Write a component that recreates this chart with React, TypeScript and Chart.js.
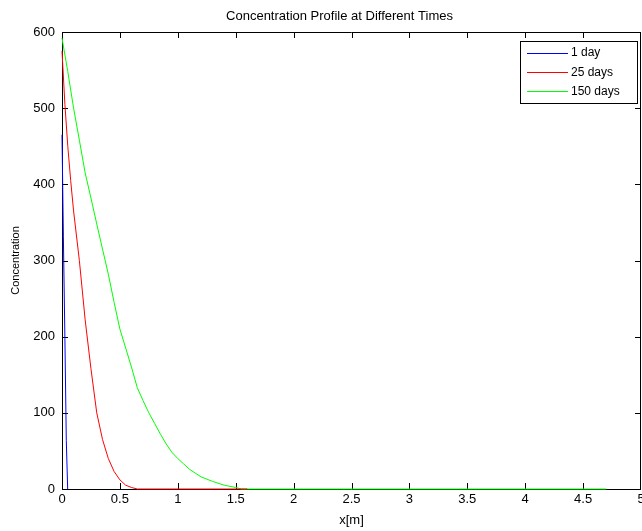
import React, { useEffect, useRef } from 'react';
import { Chart, registerables } from 'chart.js';

Chart.register(...registerables);

// ---- data ----
const seriesLabels = ['1 day', '25 days', '150 days'];
const seriesColors = ['#0000ff', '#ff0000', '#00ff00'];

const day1X = [0, 0.012, 0.025, 0.037, 0.049];
const day1Y = [465, 331, 198, 64, 0];

const day25X = [0, 0.025, 0.05, 0.075, 0.1, 0.15, 0.2, 0.25, 0.3, 0.35, 0.4, 0.45, 0.5, 0.55, 0.6, 0.65, 1.6];
const day25Y = [575, 505, 450, 405, 365, 300, 222, 158, 100, 65, 40, 23, 12, 5, 2, 0, 0];

const day150X = [0, 0.05, 0.1, 0.15, 0.2, 0.25, 0.3, 0.35, 0.4, 0.45, 0.5, 0.55, 0.6, 0.65, 0.7, 0.75, 0.8, 0.85, 0.9, 0.95, 1.0, 1.05, 1.1, 1.15, 1.2, 1.3, 1.4, 1.5, 1.55, 4.7];
const day150Y = [592, 548, 500, 458, 415, 382, 348, 315, 282, 245, 210, 185, 160, 133, 116, 100, 86, 72, 59, 48, 40, 33, 26, 21, 16, 10, 5, 2, 0, 0];

const xTickValues = [0, 0.5, 1, 1.5, 2, 2.5, 3, 3.5, 4, 4.5, 5];
const yTickValues = [0, 100, 200, 300, 400, 500, 600];

const titleText = 'Concentration Profile at Different Times';
const xTitle = 'x[m]';
const yTitle = 'Concentration';

const FONT = '"Liberation Sans", Arial, Helvetica, sans-serif';

const toPoints = (xs: number[], ys: number[]) => xs.map((x, i) => ({ x, y: ys[i] }));

const framePlugin = {
  id: 'matlabFrame',
  afterLayout(chart: any) {
    const tb = chart.titleBlock;
    if (tb) {
      tb.left = chart.chartArea.left - 12;
      tb.right = chart.chartArea.right - 12;
    }
  },
  beforeDatasetsDraw(chart: any) {
    const { ctx, chartArea } = chart;
    const { left, right, top, bottom } = chartArea;
    const xs = chart.scales.x;
    const ys = chart.scales.y;
    const tl = 6;
    ctx.save();
    ctx.strokeStyle = '#000';
    ctx.lineWidth = 1;
    ctx.beginPath();
    ctx.rect(left + 0.5, top + 0.5, right - left - 1, bottom - top);
    for (const v of xTickValues) {
      const px = Math.round(xs.getPixelForValue(v)) + 0.5;
      const p = Math.min(px, right - 0.5);
      ctx.moveTo(p, bottom);
      ctx.lineTo(p, bottom - tl);
      ctx.moveTo(p, top);
      ctx.lineTo(p, top + tl);
    }
    for (const v of yTickValues) {
      const py = Math.round(ys.getPixelForValue(v)) + 0.5;
      ctx.moveTo(left, py);
      ctx.lineTo(left + tl, py);
      ctx.moveTo(right, py);
      ctx.lineTo(right - tl, py);
    }
    ctx.stroke();
    ctx.restore();
  },
  afterDraw(chart: any) {
    const { ctx } = chart;
    const bx = 520.5, by = 41.5, bw = 117, bh = 62;
    ctx.save();
    ctx.fillStyle = '#fff';
    ctx.fillRect(bx, by, bw, bh);
    ctx.strokeStyle = '#000';
    ctx.lineWidth = 1;
    ctx.strokeRect(bx, by, bw, bh);
    ctx.font = `12px ${FONT}`;
    ctx.textBaseline = 'middle';
    ctx.textAlign = 'left';
    chart.data.datasets.forEach((ds: any, i: number) => {
      const yy = 52.5 + i * 19.3;
      ctx.strokeStyle = ds.borderColor;
      ctx.beginPath();
      ctx.moveTo(527, Math.round(yy) + 0.5);
      ctx.lineTo(568, Math.round(yy) + 0.5);
      ctx.stroke();
      ctx.fillStyle = '#000';
      ctx.fillText(ds.label, 571, yy + 0.5);
    });
    ctx.restore();
  },
};

export default function App() {
  const ref = useRef<HTMLCanvasElement | null>(null);

  useEffect(() => {
    if (!ref.current) return;
    const chart = new Chart(ref.current, {
      type: 'line',
      data: {
        datasets: [
          { label: seriesLabels[0], data: toPoints(day1X, day1Y) },
          { label: seriesLabels[1], data: toPoints(day25X, day25Y) },
          { label: seriesLabels[2], data: toPoints(day150X, day150Y) },
        ].map((d, i) => ({
          ...d,
          borderColor: seriesColors[i],
          backgroundColor: seriesColors[i],
          borderWidth: 1,
          pointRadius: 0,
          tension: 0,
          fill: false,
          clip: false as any,
        })),
      },
      options: {
        animation: false,
        responsive: false,
        devicePixelRatio: 1,
        layout: { padding: { left: 0, right: 1, top: 0, bottom: 0 } },
        plugins: {
          legend: { display: false },
          tooltip: { enabled: false },
          title: {
            display: true,
            text: titleText,
            color: '#000',
            font: { family: FONT, size: 13, weight: 'normal', lineHeight: 1.2 },
            padding: { top: 8.2, bottom: 8.2 },
          },
        },
        scales: {
          x: {
            type: 'linear',
            min: 0,
            max: 5,
            grid: { display: false, drawTicks: false },
            border: { display: false },
            ticks: {
              stepSize: 0.5,
              autoSkip: false,
              maxRotation: 0,
              padding: 3,
              color: '#000',
              font: { family: FONT, size: 13 },
              callback: (v: any) => `${+Number(v).toFixed(1)}`,
            },
            title: {
              display: true,
              text: xTitle,
              color: '#000',
              font: { family: FONT, size: 13 },
              padding: { top: 0, bottom: 3 },
            },
            afterFit: (s: any) => {
              s.height = 42;
              s.paddingLeft = 0;
              s.paddingRight = 0;
            },
          },
          y: {
            type: 'linear',
            min: 0,
            max: 600,
            grid: { display: false, drawTicks: false },
            border: { display: false },
            ticks: {
              stepSize: 100,
              padding: 7,
              color: '#000',
              font: { family: FONT, size: 13 },
            },
            title: {
              display: true,
              text: yTitle,
              color: '#000',
              font: { family: FONT, size: 11 },
              padding: { top: 9, bottom: 0 },
            },
            afterFit: (s: any) => {
              s.width = 62;
              s.paddingTop = 0;
              s.paddingBottom = 0;
            },
          },
        },
      },
      plugins: [framePlugin],
    } as any);
    return () => chart.destroy();
  }, []);

  return (
    <div style={{ position: 'absolute', left: 0, top: 0, width: 642, height: 531, background: '#fff' }}>
      <canvas ref={ref} width={642} height={531} style={{ display: 'block' }} />
    </div>
  );
}
